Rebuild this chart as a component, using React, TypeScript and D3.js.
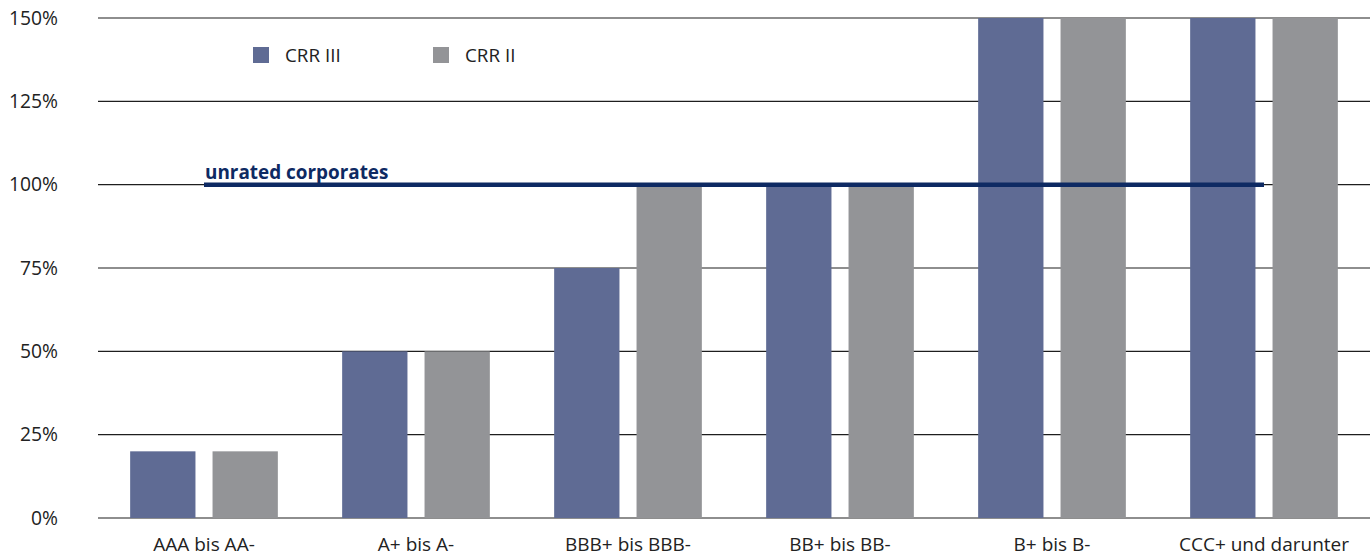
import React from "react";
import * as d3 from "d3";

const categories = ["AAA bis AA-", "A+ bis A-", "BBB+ bis BBB-", "BB+ bis BB-", "B+ bis B-", "CCC+ und darunter"];
const seriesNames = ["CRR III", "CRR II"];
const crr3 = [20, 50, 75, 100, 150, 150];
const crr2 = [20, 50, 100, 100, 150, 150];
const yTicks = [0, 25, 50, 75, 100, 125, 150];
const unratedValue = 100;
const unratedLabel = "unrated corporates";

const colors: Record<string, string> = { "CRR III": "#5f6b94", "CRR II": "#939497" };
const FONT = "'Open Sans', 'Noto Sans', sans-serif";

export default function App() {
  const W = 1370;
  const H = 557;
  const left = 98;
  const right = 1370;
  const top = 18;
  const bottom = 518;

  const x = d3.scaleBand<string>().domain(categories).range([left, right]).padding(0);
  const xs = d3
    .scaleBand<string>()
    .domain(seriesNames)
    .range([0, x.bandwidth()])
    .paddingInner(17 / 82)
    .paddingOuter(32 / 82);
  const y = d3.scaleLinear().domain([0, 150]).range([bottom, top]);

  const values: Record<string, number[]> = { "CRR III": crr3, "CRR II": crr2 };

  const lineX1 = (x(categories[0]) ?? 0) + x.bandwidth() / 2;
  const lineX2 = (x(categories[categories.length - 1]) ?? 0) + x.bandwidth() / 2;

  return (
    <div style={{ position: "fixed", left: 0, top: 0 }}>
      <svg width={W} height={H} style={{ display: "block", background: "#fff" }}>
        {/* gridlines */}
        {yTicks.map((t) => (
          <line key={t} x1={left} x2={right} y1={y(t)} y2={y(t)} stroke="#1e1e1e" strokeWidth={1.2} />
        ))}
        {/* y tick labels */}
        {yTicks.map((t) => (
          <text
            key={"l" + t}
            x={58}
            y={y(t)}
            dy="0.35em"
            textAnchor="end"
            fontFamily={FONT}
            fontSize={19.3}
            fill="#222"
          >
            {t}%
          </text>
        ))}
        {/* bars */}
        {categories.map((c, i) => (
          <g key={c} transform={`translate(${x(c)},0)`}>
            {seriesNames.map((s) => (
              <rect
                key={s}
                x={xs(s)}
                y={y(values[s][i])}
                width={xs.bandwidth()}
                height={y(0) - y(values[s][i])}
                fill={colors[s]}
              />
            ))}
          </g>
        ))}
        {/* x labels */}
        {categories.map((c) => (
          <text
            key={"x" + c}
            x={(x(c) ?? 0) + x.bandwidth() / 2}
            y={551}
            textAnchor="middle"
            fontFamily={FONT}
            fontSize={19}
            fill="#222"
          >
            {c}
          </text>
        ))}
        {/* reference line */}
        <line x1={lineX1} x2={lineX2} y1={y(unratedValue)} y2={y(unratedValue)} stroke="#0e2a63" strokeWidth={4.5} />
        <text x={lineX1 + 1} y={y(unratedValue) - 6} fontFamily={FONT} fontWeight={700} fontSize={18.9} fill="#0e2a63">
          {unratedLabel}
        </text>
        {/* legend */}
        {seriesNames.map((s, i) => (
          <g key={"lg" + s} transform={`translate(${253 + i * 180},47)`}>
            <rect width={16} height={16} fill={colors[s]} />
            <text x={32} y={8} dy="0.35em" fontFamily={FONT} fontSize={18.8} fill="#222">
              {s}
            </text>
          </g>
        ))}
      </svg>
    </div>
  );
}
